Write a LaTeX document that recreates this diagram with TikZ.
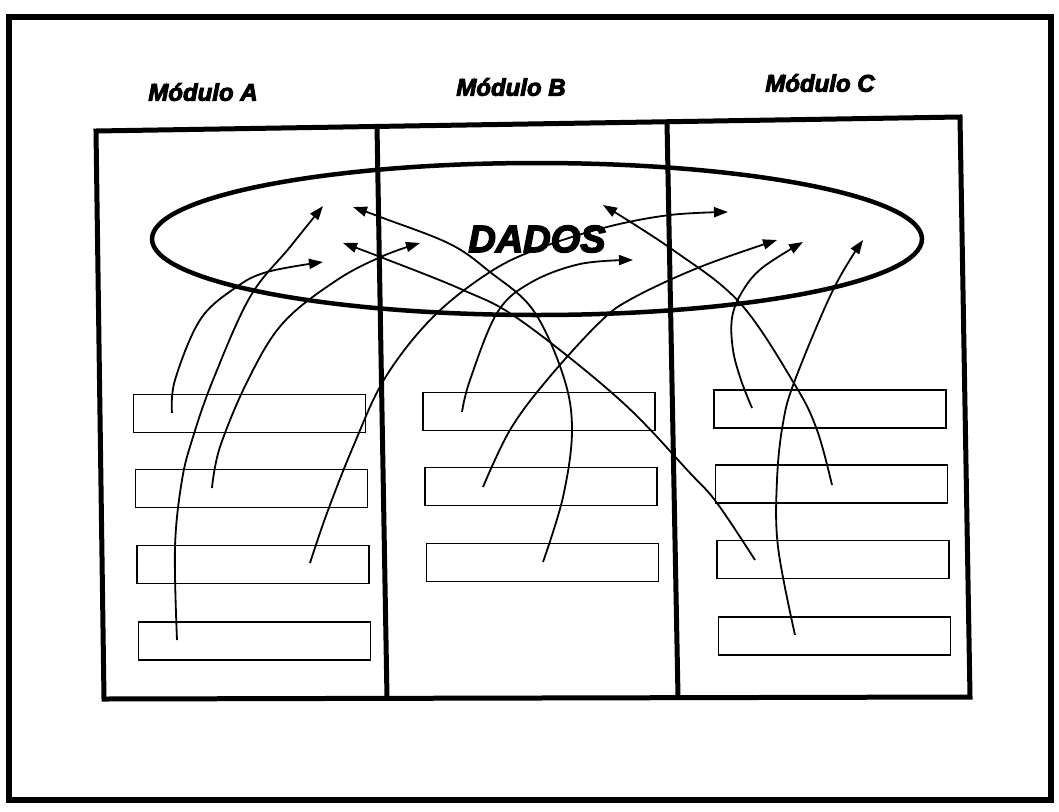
\documentclass[tikz,border=0pt]{standalone}
\usepackage{fontspec}
\usetikzlibrary{arrows.meta,shapes.geometric}
\newfontfamily\heavy[BoldItalicFeatures={FakeBold=4}]{Liberation Sans}

\tikzset{
  frameline/.style={line width=6pt},
  modline/.style={line width=5pt, line join=miter},
  slot/.style={draw, line width=1.8pt, minimum width=232pt, minimum height=38pt, inner sep=0pt},
  datastore/.style={draw, ellipse, line width=4.5pt, minimum width=770pt, minimum height=152pt, inner sep=0pt,
    font=\heavy\bfseries\itshape\fontsize{38}{40}\selectfont},
  modlabel/.style={font=\heavy\bfseries\itshape\fontsize{24}{27}\selectfont},
  flow/.style={line width=1.8pt, -{Triangle[length=14pt,width=10pt]}},
}

\begin{document}
\begin{tikzpicture}[x=1pt,y=-1pt]
\useasboundingbox (0,0) rectangle (1059,811);

% outer frame
\draw[frameline] (9,17) rectangle (1051,800);

% module titles
\node[modlabel] (labA) at (203,92) {Módulo A};
\node[modlabel] (labB) at (511,87) {Módulo B};
\node[modlabel] (labC) at (820,83) {Módulo C};

% module columns
\draw[modline] (96,131) -- (960,117) -- (970,697) -- (104,699) -- cycle;
\draw[modline] (377,126) -- (387,698);
\draw[modline] (667,122) -- (678,697);

% shared data store
\node[datastore] (dados) at (537,239) {DADOS};

% slots of module A
\node[slot] (a1) at (249.5,413.5) {};
\node[slot] (a2) at (251.5,488.5) {};
\node[slot] (a3) at (253,564.5) {};
\node[slot] (a4) at (254.5,641) {};
% slots of module B
\node[slot] (b1) at (539,411.5) {};
\node[slot] (b2) at (541,486.5) {};
\node[slot] (b3) at (542.5,562.5) {};
% slots of module C
\node[slot] (c1) at (830,409) {};
\node[slot] (c2) at (831.5,484) {};
\node[slot] (c3) at (833,559.5) {};
\node[slot] (c4) at (834.5,636) {};

% where each access starts (inside a slot) and ends (inside the data store)
\coordinate (sA1) at (172,413);  \coordinate (tA1) at (323,262);
\coordinate (sA2) at (212,488);  \coordinate (tA2) at (420,243);
\coordinate (sA3) at (310,563);  \coordinate (tA3) at (728,212);
\coordinate (sA4) at (177,640);  \coordinate (tA4) at (323,206);
\coordinate (sB1) at (462,412);  \coordinate (tB1) at (633,260);
\coordinate (sB2) at (483,487);  \coordinate (tB2) at (777,240);
\coordinate (sB3) at (543,562);  \coordinate (tB3) at (353,207);
\coordinate (sC1) at (752,408);  \coordinate (tC1) at (803,242);
\coordinate (sC2) at (832,485);  \coordinate (tC2) at (603,205);
\coordinate (sC3) at (755,560);  \coordinate (tC3) at (343,243);
\coordinate (sC4) at (795,635);  \coordinate (tC4) at (863,240);

% accesses from the slots to the data store
\draw[flow] plot[smooth, tension=0.6] coordinates
  {(sA1) (175,380) (200,320) (235,288) (267,272) (tA1)};
\draw[flow] plot[smooth, tension=0.6] coordinates
  {(sA2) (220,447) (248,380) (283,323) (337,280) (383,256) (tA2)};
\draw[flow] plot[smooth, tension=0.6] coordinates
  {(sA3) (327,513) (353,447) (385,378) (433,317) (490,272) (540,248) (607,227) (670,215) (tA3)};
\draw[flow] plot[smooth, tension=0.6] coordinates
  {(sA4) (175,547) (182,480) (193,437) (213,380) (250,297) (290,247) (tA4)};
\draw[flow] plot[smooth, tension=0.6] coordinates
  {(sB1) (470,380) (497,313) (530,283) (580,264) (tB1)};
\draw[flow] plot[smooth, tension=0.6] coordinates
  {(sB2) (510,430) (547,380) (600,322) (633,298) (700,267) (tB2)};
\draw[flow] plot[smooth, tension=0.6] coordinates
  {(sB3) (563,497) (572,430) (563,375) (533,310) (490,272) (450,244) (383,218) (tB3)};
\draw[flow] plot[smooth, tension=0.6] coordinates
  {(sC1) (741,380) (733,350) (732,318) (742,292) (762,268) (tC1)};
\draw[flow] plot[smooth, tension=0.6] coordinates
  {(sC2) (817,430) (795,385) (740,303) (673,250) (tC2)};
\draw[flow] plot[smooth, tension=0.6] coordinates
  {(sC3) (717,503) (690,473) (620,400) (520,320) (463,290) (383,258) (tC3)};
\draw[flow] plot[smooth, tension=0.6] coordinates
  {(sC4) (778,547) (777,480) (783,423) (795,380) (833,290) (tC4)};
\end{tikzpicture}
\end{document}
